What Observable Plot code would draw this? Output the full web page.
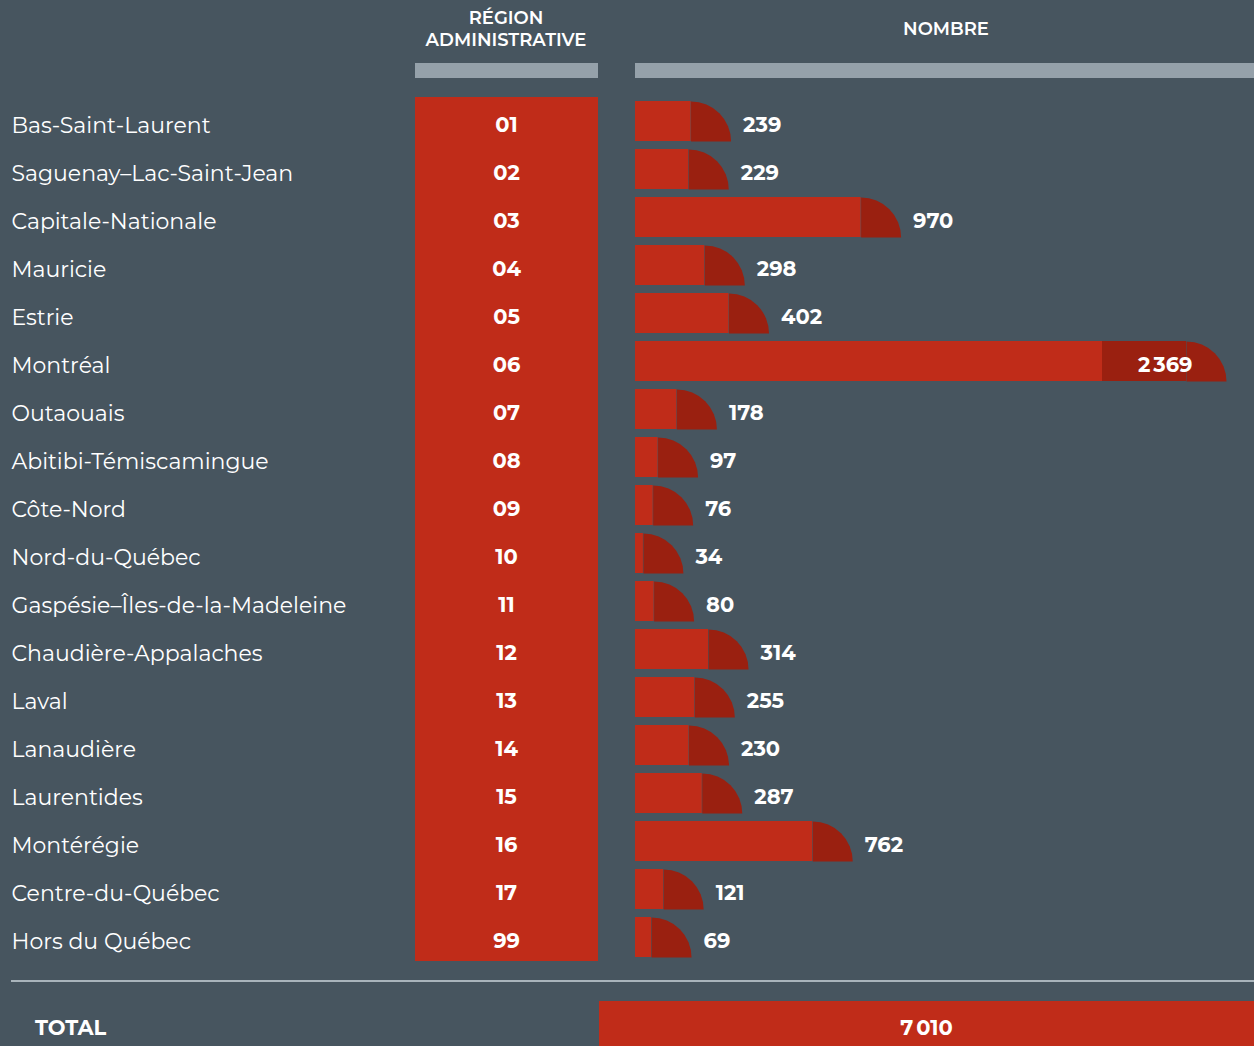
<!DOCTYPE html>
<html><head><meta charset="utf-8">
<script src="https://cdn.jsdelivr.net/npm/d3@7"></script>
<script src="https://cdn.jsdelivr.net/npm/@observablehq/plot@0.6"></script>
<style>
html,body{margin:0;padding:0;background:#47555f;overflow:hidden;}
svg{display:block;}
</style></head><body><div id="chart"></div>
<script>
const regions = ["Bas-Saint-Laurent","Saguenay–Lac-Saint-Jean","Capitale-Nationale","Mauricie","Estrie","Montréal","Outaouais","Abitibi-Témiscamingue","Côte-Nord","Nord-du-Québec","Gaspésie–Îles-de-la-Madeleine","Chaudière-Appalaches","Laval","Lanaudière","Laurentides","Montérégie","Centre-du-Québec","Hors du Québec"];
const codes = ["01","02","03","04","05","06","07","08","09","10","11","12","13","14","15","16","17","99"];
const values = [239,229,970,298,402,2369,178,97,76,34,80,314,255,230,287,762,121,69];
const headerCode = ["RÉGION","ADMINISTRATIVE"];
const headerValue = ["NOMBRE"];
const totalLabel = "TOTAL";

const data = regions.map((r, i) => ({region: r, code: codes[i], value: values[i]}));
const maxVal = d3.max(values);
const total = d3.sum(values);
const fmt = v => d3.format(",")(v).replace(/,/g, "\u202F");

const W = 1254, H = 1046;
const mL = 635, mR = 68, mT = 97, mB = 85;
const RED = "#c02c19", DARK = "#9a2010", BG = "#47555f", GREY = "#95a1aa";
const FONT = "Montserrat, Inter, 'Open Sans', sans-serif";
const capR = 40;
const extPx = 84;
const extVal = extPx * maxVal / (W - mL - mR);
const isInside = d => d.value === maxVal;

const capSymbol = {
  draw(ctx, size) {
    const R = Math.sqrt(size / Math.PI);
    ctx.moveTo(0, -R / 2);
    ctx.arc(0, R / 2, R, -Math.PI / 2, 0);
    ctx.lineTo(0, R / 2);
    ctx.closePath();
  }
};

function frame(index, scales, vals, dims) {
  const {width, height, marginTop, marginBottom} = dims;
  const g = d3.create("svg:g");
  const bottom = height - marginBottom;
  g.append("rect").attr("x", 415).attr("y", marginTop).attr("width", 183).attr("height", bottom - marginTop).attr("fill", RED);
  g.append("rect").attr("x", 415).attr("y", 63).attr("width", 183).attr("height", 15).attr("fill", GREY);
  g.append("rect").attr("x", 635).attr("y", 63).attr("width", width - 635).attr("height", 15).attr("fill", GREY);
  const ht = g.append("g").attr("fill", "#fff").attr("font-weight", 600).attr("font-size", 18).attr("text-anchor", "middle").attr("font-family", FONT);
  headerCode.forEach((t, i) => ht.append("text").attr("x", 506).attr("y", 18 + i * 22).attr("dy", "0.35em").text(t));
  headerValue.forEach((t) => ht.append("text").attr("x", 946).attr("y", 29).attr("dy", "0.35em").text(t));
  g.append("line").attr("x1", 11).attr("x2", width).attr("y1", 981).attr("y2", 981).attr("stroke", "#a9b4bb").attr("stroke-width", 2);
  g.append("rect").attr("x", 599).attr("y", 1001).attr("width", width - 599).attr("height", 60).attr("fill", RED);
  const tt = g.append("g").attr("fill", "#fff").attr("font-weight", 700).attr("font-size", 21).attr("font-family", FONT);
  tt.append("text").attr("x", 35).attr("y", 1028).attr("dy", "0.35em").attr("text-anchor", "start").text(totalLabel);
  tt.append("text").attr("x", (599 + width) / 2).attr("y", 1028).attr("dy", "0.35em").attr("text-anchor", "middle").text(fmt(total));
  return g.node();
}

const chart = Plot.plot({
  width: W, height: H,
  marginLeft: mL, marginRight: mR, marginTop: mT, marginBottom: mB,
  style: {background: BG, color: "#fff", fontFamily: FONT},
  x: {domain: [0, maxVal], axis: null},
  y: {domain: regions, padding: 0, axis: null},
  marks: [
    frame,
    Plot.barX(data, {x: "value", y: "region", fill: RED, insetTop: 4, insetBottom: 4}),
    Plot.barX(data.filter(isInside), {x1: d => d.value - extVal, x2: "value", y: "region", fill: DARK, insetTop: 4, insetBottom: 4}),
    Plot.dot(data, {x: "value", y: "region", r: capR, symbol: capSymbol, fill: DARK, stroke: null}),
    Plot.text(data, {y: "region", text: "region", frameAnchor: "left", dx: 11 - mL, dy: 4, textAnchor: "start", fill: "#fff", fontSize: 22}),
    Plot.text(data, {y: "region", text: "code", frameAnchor: "left", dx: 506 - mL, dy: 4, textAnchor: "middle", fill: "#fff", fontSize: 21, fontWeight: 700}),
    Plot.text(data.filter(d => !isInside(d)), {x: "value", y: "region", text: d => fmt(d.value), dx: capR + 12, dy: 4, textAnchor: "start", fill: "#fff", fontSize: 21, fontWeight: 700}),
    Plot.text(data.filter(isInside), {x: "value", y: "region", text: d => fmt(d.value), dx: 6, dy: 4, textAnchor: "end", fill: "#fff", fontSize: 21, fontWeight: 700})
  ]
});
document.getElementById("chart").appendChild(chart);
</script>
</body></html>
